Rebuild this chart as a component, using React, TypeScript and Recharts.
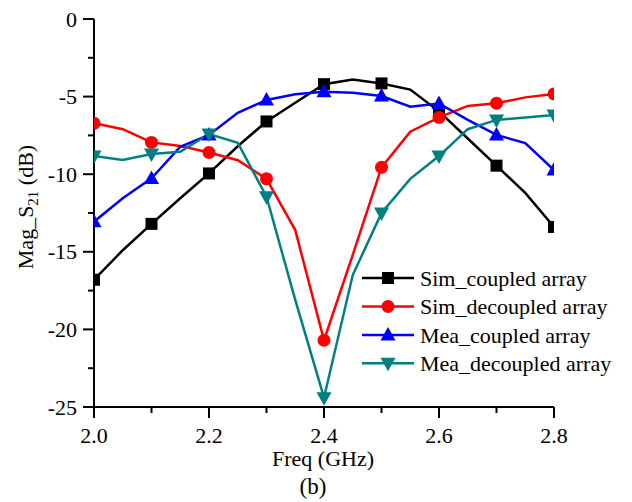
import React from 'react';
import { LineChart, Line, XAxis, YAxis, Legend } from 'recharts';

const freqs: number[] = [2.0, 2.05, 2.1, 2.15, 2.2, 2.25, 2.3, 2.35, 2.4, 2.45, 2.5, 2.55, 2.6, 2.65, 2.7, 2.75, 2.8];
const simCoupled: number[] = [-16.8, -14.9, -13.2, -11.55, -9.95, -8.2, -6.6, -5.4, -4.2, -3.9, -4.15, -4.55, -5.95, -7.7, -9.45, -11.2, -13.4];
const simDecoupled: number[] = [-6.72, -7.1, -7.95, -8.18, -8.6, -9.1, -10.3, -13.6, -20.7, -15.2, -9.56, -7.26, -6.34, -5.6, -5.43, -5.05, -4.83];
const meaCoupled: number[] = [-13.06, -11.55, -10.27, -8.23, -7.47, -6.04, -5.22, -4.85, -4.68, -4.75, -4.96, -5.65, -5.44, -6.5, -7.47, -8.0, -9.73];
const meaDecoupled: number[] = [-8.83, -9.09, -8.7, -8.55, -7.41, -7.97, -11.45, -18.1, -24.4, -16.5, -12.5, -10.3, -8.83, -7.1, -6.5, -6.34, -6.19];

const xTicks: number[] = [2.0, 2.1, 2.2, 2.3, 2.4, 2.5, 2.6, 2.7, 2.8];
const yTicks: number[] = [-25, -22.5, -20, -17.5, -15, -12.5, -10, -7.5, -5, -2.5, 0];

const seriesNames: string[] = ['Sim_coupled array', 'Sim_decoupled array', 'Mea_coupled array', 'Mea_decoupled array'];
const seriesKeys: string[] = ['sc', 'sd', 'mc', 'md'];
const seriesColors: string[] = ['#000000', '#ff0000', '#0000ff', '#008080'];
const seriesShapes: string[] = ['square', 'circle', 'up', 'down'];

const data = freqs.map((f, i) => ({
  f,
  sc: simCoupled[i],
  sd: simDecoupled[i],
  mc: meaCoupled[i],
  md: meaDecoupled[i],
}));

const FONT = "'Liberation Serif', 'Times New Roman', Times, serif";
const TXT: React.CSSProperties = { fontFamily: FONT };

function Marker({ shape, cx, cy, color }: { shape: string; cx: number; cy: number; color: string }) {
  if (shape === 'square') {
    return <rect x={cx - 6} y={cy - 6} width={12} height={12} fill={color} />;
  }
  if (shape === 'circle') {
    return <circle cx={cx} cy={cy} r={6.5} fill={color} />;
  }
  if (shape === 'up') {
    return <polygon points={`${cx},${cy - 8} ${cx - 7.5},${cy + 5.5} ${cx + 7.5},${cy + 5.5}`} fill={color} />;
  }
  return <polygon points={`${cx},${cy + 8} ${cx - 7.5},${cy - 5.5} ${cx + 7.5},${cy - 5.5}`} fill={color} />;
}

const makeDot = (shape: string, color: string) => (props: any) => {
  const { cx, cy, index } = props;
  if (index % 2 !== 0 || cx == null || cy == null) {
    return <g key={`d-${shape}-${index}`} />;
  }
  return (
    <g key={`d-${shape}-${index}`}>
      <Marker shape={shape} cx={cx} cy={cy} color={color} />
    </g>
  );
};

const XTick = (props: any) => {
  const { x, y, payload } = props;
  const v = payload.value as number;
  const major = Math.round(v * 10) % 2 === 0;
  return (
    <g>
      <line x1={x} y1={y} x2={x} y2={y + (major ? 11 : 6)} stroke="#000" strokeWidth={2} />
      {major && (
        <text x={x} y={y + 36} textAnchor="middle" fontSize={22} style={TXT} fill="#000">
          {v.toFixed(1)}
        </text>
      )}
    </g>
  );
};

const YTick = (props: any) => {
  const { x, y, payload } = props;
  const v = payload.value as number;
  const major = v % 5 === 0;
  return (
    <g>
      <line x1={x - (major ? 11 : 6)} y1={y} x2={x} y2={y} stroke="#000" strokeWidth={2} />
      {major && (
        <text x={x - 17} y={y + 7.5} textAnchor="end" fontSize={22} style={TXT} fill="#000">
          {String(v)}
        </text>
      )}
    </g>
  );
};

const YTitle = () => (
  <text
    x={0}
    y={0}
    transform="translate(33,207) rotate(-90)"
    textAnchor="middle"
    fontSize={22}
    style={TXT}
    fill="#000"
  >
    <tspan>Mag_S</tspan>
    <tspan dy={5} fontSize={15}>21</tspan>
    <tspan dy={-5}> (dB)</tspan>
  </text>
);

const XTitle = () => (
  <g>
    <text x={323} y={466} textAnchor="middle" fontSize={22} style={TXT} fill="#000">
      Freq (GHz)
    </text>
    <text x={313} y={494} textAnchor="middle" fontSize={23} style={TXT} fill="#000">
      (b)
    </text>
  </g>
);

const LegendContent = () => {
  const rowYs = [14, 42.5, 71, 99.3];
  return (
    <svg width={270} height={115} style={{ display: 'block' }}>
      {seriesNames.map((name, i) => (
        <g key={name}>
          <line x1={6} y1={rowYs[i]} x2={58} y2={rowYs[i]} stroke={seriesColors[i]} strokeWidth={2.5} />
          <Marker shape={seriesShapes[i]} cx={32} cy={rowYs[i]} color={seriesColors[i]} />
          <text x={64} y={rowYs[i] + 7.5} fontSize={22} style={TXT} fill="#000">
            {name}
          </text>
        </g>
      ))}
    </svg>
  );
};

export default function App() {
  return (
    <div style={{ position: 'absolute', left: 0, top: 0, width: 632, height: 502, background: '#fff', fontFamily: FONT }}>
      <LineChart
        width={632}
        height={502}
        data={data}
        margin={{ top: 19, right: 78, bottom: 0, left: 0 }}
        style={{ fontFamily: FONT }}
      >
        <XAxis
          dataKey="f"
          type="number"
          domain={[2.0, 2.8]}
          ticks={xTicks}
          allowDataOverflow
          height={95}
          tickSize={0}
          tickMargin={0}
          tickLine={false}
          axisLine={{ stroke: '#000', strokeWidth: 2 }}
          tick={<XTick />}
          interval={0}
          label={<XTitle />}
        />
        <YAxis
          type="number"
          domain={[-25, 0]}
          ticks={yTicks}
          allowDataOverflow
          width={94}
          tickSize={0}
          tickMargin={0}
          tickLine={false}
          axisLine={{ stroke: '#000', strokeWidth: 2 }}
          tick={<YTick />}
          interval={0}
          label={<YTitle />}
        />
        <Legend
          layout="vertical"
          align="center"
          verticalAlign="middle"
          content={<LegendContent />}
          wrapperStyle={{ left: 356, top: 264, width: 270 }}
        />
        {seriesKeys.map((k, i) => (
          <Line
            key={k}
            type="linear"
            dataKey={k}
            name={seriesNames[i]}
            stroke={seriesColors[i]}
            strokeWidth={2.5}
            dot={makeDot(seriesShapes[i], seriesColors[i])}
            activeDot={false}
            isAnimationActive={false}
          />
        ))}
      </LineChart>
    </div>
  );
}
